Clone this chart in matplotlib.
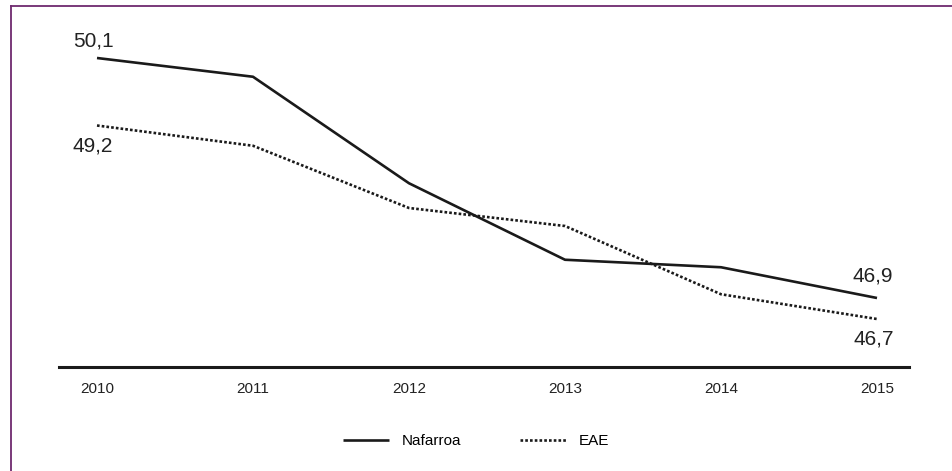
import numpy as np
import matplotlib
matplotlib.use('Agg')
import matplotlib.pyplot as plt
from matplotlib.lines import Line2D

years = [2010, 2011, 2012, 2013, 2014, 2015]
nafarroa = [50.1, 49.85, 48.43, 47.41, 47.31, 46.9]
eae = [49.2, 48.93, 48.1, 47.86, 46.95, 46.62]
first_labels = ['50,1', '49,2']
last_labels = ['46,9', '46,7']

plt.rcParams['font.family'] = ['Liberation Sans', 'DejaVu Sans']

W, H = 952, 471
fig = plt.figure(figsize=(W / 100, H / 100), dpi=100)
ax = fig.add_axes([59 / W, (H - 367) / H, 850 / W, 347 / H])

ax.plot(years, nafarroa, color='#1a1a1a', lw=1.9, solid_capstyle='butt', label='Nafarroa')
ax.plot(years, eae, color='#1a1a1a', lw=1.9, linestyle=(0, (1, 0.8)), label='EAE')

ax.set_xlim(2010 - 38 / 156, 2015 + 32 / 156)
ax.set_ylim(50.1 - 309 / 75, 50.1 + 38 / 75)

for s in ['top', 'right', 'left']:
    ax.spines[s].set_visible(False)
ax.spines['bottom'].set_linewidth(2.2)
ax.spines['bottom'].set_color('#1a1a1a')
ax.set_yticks([])
ax.set_xticks(years)
ax.set_xticklabels([str(y) for y in years], fontsize=11, color='#222222')
ax.tick_params(axis='x', length=0, pad=11)

# value labels at both ends
ax.annotate(first_labels[0], (years[0], nafarroa[0]), xytext=(-4, 17), textcoords='offset pixels',
            ha='center', va='center', fontsize=15, color='#222222')
ax.annotate(first_labels[1], (years[0], eae[0]), xytext=(-4, -21), textcoords='offset pixels',
            ha='center', va='center', fontsize=15, color='#222222')
ax.annotate(last_labels[0], (years[-1], nafarroa[-1]), xytext=(-4, 22), textcoords='offset pixels',
            ha='center', va='center', fontsize=15, color='#222222')
ax.annotate(last_labels[1], (years[-1], eae[-1]), xytext=(-3, -20), textcoords='offset pixels',
            ha='center', va='center', fontsize=15, color='#222222')

fig.legend(loc='center', bbox_to_anchor=(0.5, 1 - 441 / H), ncol=2, frameon=False,
           fontsize=11, handlelength=3.0, handletextpad=0.8, columnspacing=3.9)

# purple frame (left and top edges visible)
border = '#6e2a6e'
fig.add_artist(Line2D([11 / W, 11 / W], [0, 1 - 6 / H], color=border, lw=1.3, transform=fig.transFigure))
fig.add_artist(Line2D([11 / W, 1], [1 - 6 / H, 1 - 6 / H], color=border, lw=1.3, transform=fig.transFigure))

fig.savefig('out.png', dpi=100)
